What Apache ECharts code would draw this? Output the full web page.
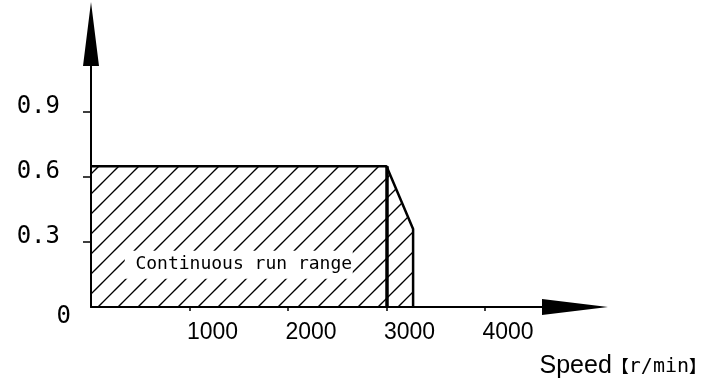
<!DOCTYPE html>
<html>
<head>
<meta charset="utf-8">
<script src="https://cdn.jsdelivr.net/npm/echarts@6/dist/echarts.min.js"></script>
<style>
html,body{margin:0;padding:0;background:#fff;}
#chart{width:725px;height:390px;}
</style>
</head>
<body>
<div id="chart"></div>
<script>
// ---- data ----
const speeds = [0, 3000, 3270, 3270];          // r/min, outline of the operating region
const torque = [0.65, 0.65, 0.36, 0];          // value axis
const ratedSpeed = 3000;
const ratedTorque = 0.65;
const xTickValues = [1000, 2000, 3000, 4000];
const yTickValues = [0.3, 0.6, 0.9];
const yLabelValues = [0, 0.3, 0.6, 0.9];
const regionLabel = 'Continuous run range';
const regionLabelAt = [1500, 0.195];
const axisNameMain = 'Speed';
const axisNameUnit = 'r/min';

// ---- hatch pattern ----
function makeHatch() {
  const c = document.createElement('canvas');
  c.width = 20; c.height = 20;
  const ctx = c.getContext('2d');
  ctx.strokeStyle = '#000';
  ctx.lineWidth = 1.3;
  [-15, 5, 25, 45].forEach(function (k) {
    ctx.beginPath();
    ctx.moveTo(-5, k + 5);
    ctx.lineTo(25, k - 25);
    ctx.stroke();
  });
  return c;
}

const outline = speeds.map(function (s, i) { return [s, torque[i]]; });

const chart = echarts.init(document.getElementById('chart'), null, {renderer: 'canvas'});
chart.setOption({
  backgroundColor: '#fff',
  animation: false,
  grid: {left: 91, right: 141.5, top: 47, bottom: 83},
  xAxis: {
    type: 'value',
    min: 0, max: 5000,
    splitLine: {show: false},
    axisLine: {
      show: true, onZero: false,
      lineStyle: {color: '#000', width: 2},
      symbol: ['none', 'triangle'],
      symbolSize: [16, 66],
      symbolOffset: [0, -8.5]
    },
    axisTick: {show: true, length: 4, customValues: xTickValues, lineStyle: {color: '#000', width: 1.5}},
    axisLabel: {
      customValues: xTickValues,
      formatter: function (v) { return String(v); },
      color: '#000',
      fontFamily: 'Liberation Sans',
      fontSize: 23,
      margin: 14,
      align: 'center',
      padding: [0, 0, 0, 46]
    },
    name: '{s|' + axisNameMain + '}{b|【}{u|' + axisNameUnit + '}{b|】}',
    nameLocation: 'end',
    nameGap: 122.5,
    nameTextStyle: {
      align: 'right',
      verticalAlign: 'top',
      padding: [47, 0, 0, 0],
      rich: {
        s: {fontFamily: 'Liberation Sans', fontSize: 25, color: '#000'},
        b: {fontFamily: 'Noto Sans CJK SC', fontSize: 17, fontWeight: 'bold', color: '#000'},
        u: {fontFamily: 'DejaVu Sans Mono', fontSize: 20, color: '#000'}
      }
    }
  },
  yAxis: {
    type: 'value',
    min: 0, max: 1.2,
    splitLine: {show: false},
    axisLine: {
      show: true, onZero: false,
      lineStyle: {color: '#000', width: 2},
      symbol: ['none', 'triangle'],
      symbolSize: [16, 64],
      symbolOffset: [0, 13]
    },
    axisTick: {show: true, length: 8, customValues: yTickValues, lineStyle: {color: '#000', width: 1.5}},
    axisLabel: {
      customValues: yLabelValues,
      margin: 20,
      formatter: function (v) {
        return v === 0 ? '{z|0}' : '{n|' + v + '}';
      },
      rich: {
        n: {fontFamily: 'DejaVu Sans Mono', fontSize: 24, color: '#000', padding: [0, 11, 10, 0]},
        z: {fontFamily: 'DejaVu Sans Mono', fontSize: 24, color: '#000', padding: [19, 0, 0, 0]}
      }
    }
  },
  series: [
    {
      type: 'line',
      data: outline,
      symbol: 'none',
      silent: true,
      lineStyle: {color: '#000', width: 2.5},
      areaStyle: {color: {image: makeHatch(), repeat: 'repeat'}, opacity: 1},
      emphasis: {disabled: true},
      markLine: {
        silent: true,
        symbol: 'none',
        label: {show: false},
        lineStyle: {color: '#000', width: 3.5, type: 'solid'},
        data: [[{coord: [ratedSpeed, 0]}, {coord: [ratedSpeed, ratedTorque]}]]
      },
      markPoint: {
        silent: true,
        symbol: 'rect',
        symbolSize: [228, 28],
        itemStyle: {color: '#fff', opacity: 1},
        label: {
          show: true,
          position: 'inside',
          formatter: regionLabel,
          fontFamily: 'DejaVu Sans Mono',
          fontSize: 18,
          color: '#000',
          opacity: 1,
          textBorderWidth: 0,
          padding: [0, 0, 0, 10]
        },
        data: [{coord: regionLabelAt}]
      },
      z: 2
    }
  ]
});
</script>
</body>
</html>
